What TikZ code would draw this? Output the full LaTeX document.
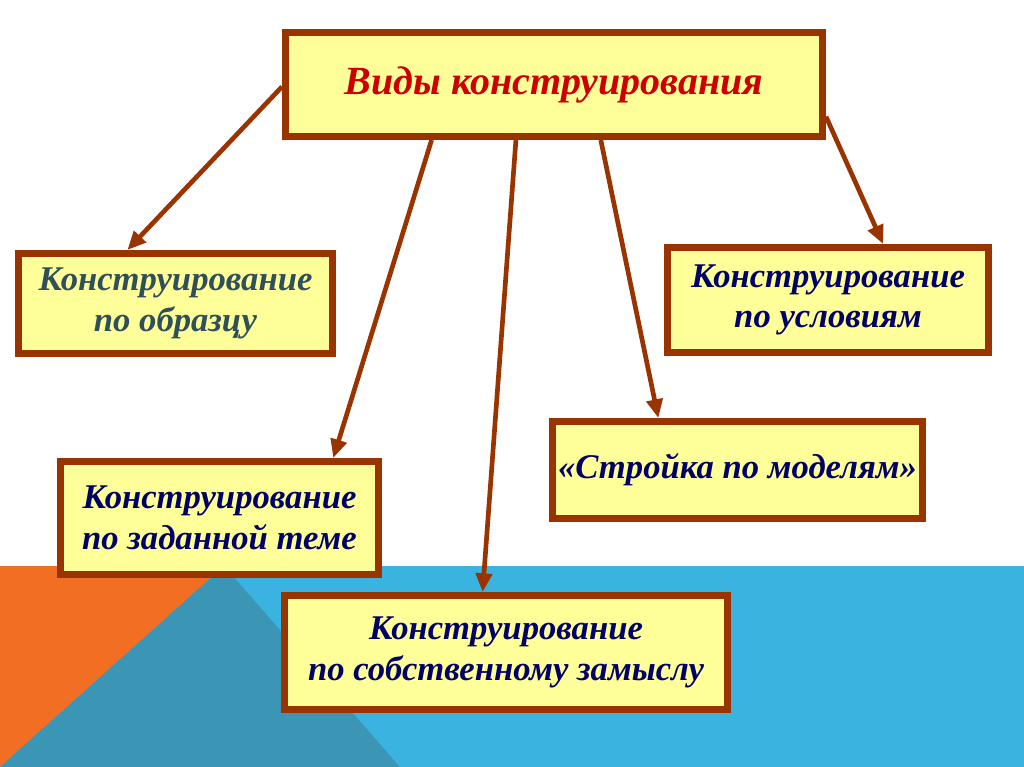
\documentclass[tikz,border=0pt]{standalone}
\usepackage{fontspec}
\setmainfont{Liberation Serif}
\usetikzlibrary{arrows.meta,calc}
\definecolor{boxfill}{HTML}{FFFF99}
\definecolor{boxline}{HTML}{993300}
\definecolor{titlered}{HTML}{CC0000}
\definecolor{navytext}{HTML}{000066}
\definecolor{slatetext}{HTML}{2F4F5A}
\definecolor{bgorange}{HTML}{F26E22}
\definecolor{bgblue}{HTML}{3AB3E0}
\definecolor{bgteal}{HTML}{3A96B4}
\tikzset{
  kbox/.style={draw=boxline, fill=boxfill, line width=5.25pt, inner sep=0pt,
    align=center, font=\fontsize{26}{30.5}\selectfont\bfseries\itshape, text=navytext},
  bw/.style={minimum width=0.75*#1 pt},
  bh/.style={minimum height=0.75*#1 pt},
  karrow/.style={draw=boxline, line width=3.5pt, -{Triangle[length=14pt,width=12pt]}}
}
\begin{document}
\begin{tikzpicture}[x=0.75pt,y=-0.75pt]
\useasboundingbox (0,0) rectangle (1024,767);
\fill[white] (0,0) rectangle (1024,767);
\fill[bgblue] (0,566) rectangle (1024,767);
\fill[bgorange] (0,566) -- (224,566) -- (0,767) -- cycle;
\fill[bgteal] (224,566) -- (400,767) -- (0,767) -- cycle;

\node[kbox, bw=537, bh=104, text=titlered,
  font=\fontsize{30}{34}\selectfont\bfseries\itshape] (top) at (554,84.5) {Виды конструирования};
\node[kbox, bw=314, bh=100, text=slatetext] (obr) at (175.5,303.5) {Конструирование\\по образцу};
\node[kbox, bw=321, bh=105] (usl) at (828,300) {Конструирование\\по условиям};
\node[kbox, bw=370, bh=97] (str) at (737.5,470) {«Стройка по моделям»};
\node[kbox, bw=318, bh=113] (tem) at (219.5,518) {Конструирование\\по заданной теме};
\node[kbox, bw=443, bh=114] (zam) at (506,652.5) {Конструирование\\по собственному замыслу};

\draw[karrow] ($(top.north west)!0.52!(top.south west)$) -- ($(obr.north west)!0.35!(obr.north east)$);
\draw[karrow] ($(top.south west)!0.275!(top.south east)$) -- ($(tem.north west)!0.85!(tem.north east)$);
\draw[karrow] ($(top.south west)!0.43!(top.south east)$) -- ($(zam.north west)!0.448!(zam.north east)$);
\draw[karrow] ($(top.south west)!0.586!(top.south east)$) -- ($(str.north west)!0.29!(str.north east)$);
\draw[karrow] ($(top.north east)!0.79!(top.south east)$) -- ($(usl.north west)!0.668!(usl.north east)$);
\end{tikzpicture}
\end{document}
